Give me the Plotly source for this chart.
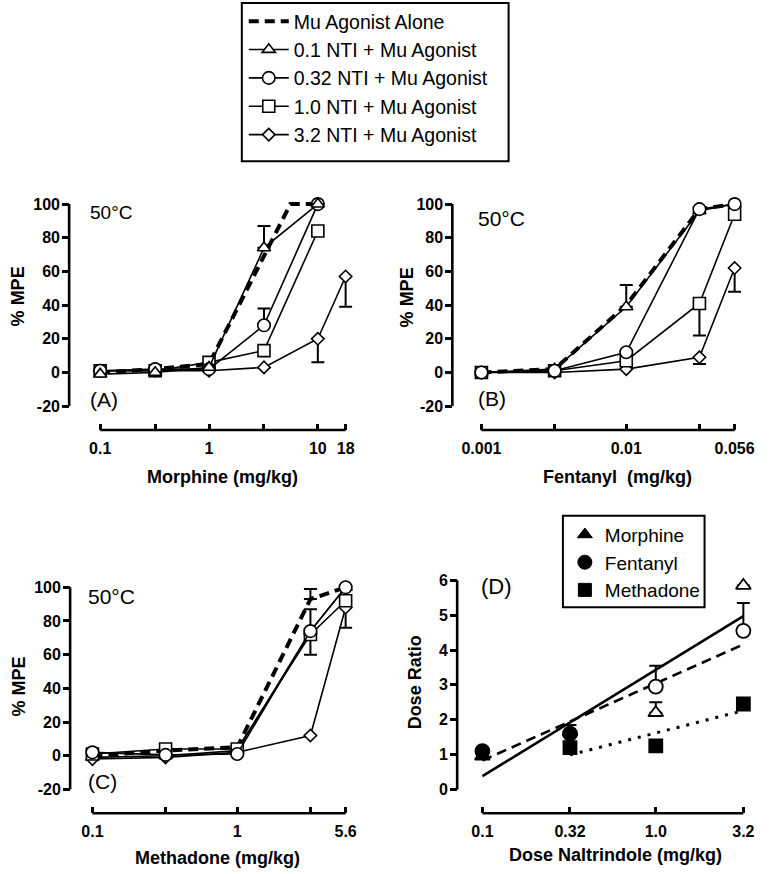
import numpy as np
import plotly.graph_objects as go

W, H = 769, 874
FONT = "Liberation Sans"

# ---------------- data ----------------
# Panel A: morphine (% MPE)
morph_dose = [0.1, 0.32, 1, 3.2, 10]
morph_dose_alone = [0.1, 0.32, 1, 3.2, 5.6, 10]
morph_dose_nti32 = [0.1, 0.32, 1, 3.2, 10, 18]
morph_alone = [0, 2, 5, 70, 100, 100]
morph_nti01 = [-1, 0, 3, 74, 100]
morph_nti01_up = [0, 0, 0, 13, 0]
morph_nti032 = [1, 2, 2, 28, 100]
morph_nti032_up = [0, 0, 0, 10, 0]
morph_nti10 = [1, 1, 6, 13, 84]
morph_nti32 = [1, 1, 1, 3, 20, 57]
morph_nti32_dn = [0, 0, 0, 0, 14, 18]

# Panel B: fentanyl (% MPE)
fent_dose = [0.001, 0.0032, 0.01, 0.032, 0.056]
fent_alone = [0, 2, 40, 97, 100]
fent_nti01 = [0, 2, 39, 96, 100]
fent_nti01_up = [0, 0, 13, 0, 0]
fent_nti032 = [0, 1, 12, 97, 100]
fent_nti10 = [0, 1, 7, 41, 94]
fent_nti10_dn = [0, 0, 0, 19, 0]
fent_nti32 = [0, 0, 2, 9, 62]
fent_nti32_dn = [0, 0, 0, 4, 14]

# Panel C: methadone (% MPE)
meth_dose = [0.1, 0.32, 1, 3.2, 5.6]
meth_alone = [0, 3, 5, 93, 100]
meth_alone_up = [0, 0, 0, 6, 0]
meth_nti01 = [-1, 0, 3, 74, 100]
meth_nti032 = [2, 0.5, 1, 74, 100]
meth_nti032_up = [0, 0, 0, 13, 0]
meth_nti10 = [1, 4, 4, 72, 92]
meth_nti10_dn = [0, 0, 0, 12, 0]
meth_nti32 = [-2, -1, 2, 12, 88]
meth_nti32_dn = [0, 0, 0, 0, 12]

# Panel D: dose ratio vs naltrindole dose
nti_dose = [0.1, 0.32, 1.0, 3.2]
dr_morph = [0.95, 1.65, 2.2, 5.85]
dr_morph_up = [0, 0.2, 0.3, 0]
dr_fent = [1.1, 1.6, 2.95, 4.55]
dr_fent_up = [0, 0, 0.6, 0.8]
nti_dose_meth = [0.32, 1.0, 3.2]
dr_meth = [1.2, 1.25, 2.45]
morph_open = [False, False, True, True]
fent_open = [False, False, True, True]
meth_open = [False, False, False]
fit_dose = [0.1, 3.2]
fit_morph = [0.38, 4.97]
fit_fent = [0.83, 4.16]
fit_dose_meth = [0.32, 3.2]
fit_meth = [0.99, 2.26]

series_names = ["Mu Agonist Alone", "0.1 NTI + Mu Agonist", "0.32 NTI + Mu Agonist",
                "1.0 NTI + Mu Agonist", "3.2 NTI + Mu Agonist"]
drug_names = ["Morphine", "Fentanyl", "Methadone"]

pct_ticks = [-20, 0, 20, 40, 60, 80, 100]
pct_ticktext = ["-20", "0", "20", "40", "60", "80", "100"]
dr_ticks = [0, 1, 2, 3, 4, 5, 6]
dr_ticktext = ["0", "1", "2", "3", "4", "5", "6"]
morph_ticks = [0.1, 0.32, 1, 3.2, 10, 18]
morph_ticktext = ["0.1", "", "1", "", "10", "18"]
fent_ticks = [0.001, 0.0032, 0.01, 0.032, 0.056]
fent_ticktext = ["0.001", "", "0.01", "", "0.056"]
meth_ticks = [0.1, 0.32, 1, 3.2, 5.6]
meth_ticktext = ["0.1", "", "1", "", "5.6"]
nti_ticks = [0.1, 0.32, 1.0, 3.2]
nti_ticktext = ["0.1", "0.32", "1.0", "3.2"]

# ---------------- geometry helpers ----------------
def log_x(v0, p0, v1, p1, lo, hi):
    u0, u1 = np.log10(v0), np.log10(v1)
    k = (p1 - p0) / (u1 - u0)
    d0 = p0 + k * (np.log10(lo) - u0)
    d1 = p0 + k * (np.log10(hi) - u0)
    return [max(0.0, d0 / W), min(1.0, d1 / W)], [np.log10(lo), np.log10(hi)]

def lin_y(v0, p0, v1, p1, lo, hi):
    k = (p1 - p0) / (v1 - v0)
    s_lo = p0 + k * (lo - v0)
    s_hi = p0 + k * (hi - v0)
    return [max(0.0, 1 - s_lo / H), min(1.0, 1 - s_hi / H)], [lo, hi]

def py(p):
    return 1 - p / H

def px(p):
    return p / W

tickfont = dict(family=FONT, size=16, color="black", weight="bold")
AXW = 2.6

def xcfg(dom, rng, pos_px, vals, text):
    return dict(type="log", domain=dom, range=rng, anchor="free", position=py(pos_px),
                showline=False, showgrid=False, zeroline=False,
                ticks="inside", ticklen=6, tickwidth=AXW, tickcolor="black",
                tickvals=vals, ticktext=text, tickfont=tickfont, ticklabelstandoff=7)

def ycfg(dom, rng, pos_px, vals, text):
    return dict(domain=dom, range=rng, anchor="free", position=px(pos_px), side="left",
                showline=False, showgrid=False, zeroline=False,
                ticks="outside", ticklen=7, tickwidth=AXW, tickcolor="black",
                tickvals=vals, ticktext=text, tickfont=tickfont, ticklabelstandoff=-1)

panels = {
    "A": dict(x=log_x(0.1, 94, 18, 347, 0.085, 21), y=lin_y(-20, 406, 100, 203, -24, 104),
              ypos=62, xpos=430, xr=(0.1, 18), yr=(-20, 100)),
    "B": dict(x=log_x(0.001, 487, 0.056, 748, 0.00085, 0.062), y=lin_y(-20, 406, 100, 203, -24, 104),
              ypos=457, xpos=430, xr=(0.001, 0.056), yr=(-20, 100)),
    "C": dict(x=log_x(0.1, 86, 5.6, 347, 0.085, 6.5), y=lin_y(-20, 791, 100, 588, -24, 104),
              ypos=63, xpos=815, xr=(0.1, 5.6), yr=(-20, 100)),
    "D": dict(x=log_x(0.1, 488, 3.2, 757, 0.085, 3.5), y=lin_y(0, 791, 6, 581, -0.3, 6.3),
              ypos=462, xpos=815, xr=(0.1, 3.2), yr=(0, 6)),
}
axid = {"A": ("x", "y"), "B": ("x2", "y2"), "C": ("x3", "y3"), "D": ("x4", "y4")}

fig = go.Figure()

symbols = [None, "triangle-up", "circle", "square", "diamond"]
msizes = [0, 11.5, 12.5, 12, 9.5]

def err(up, dn):
    if up is None and dn is None:
        return None
    n = len(up) if up is not None else len(dn)
    return dict(type="data", symmetric=False,
                array=up if up is not None else [0] * n,
                arrayminus=dn if dn is not None else [0] * n,
                color="black", thickness=2, width=6.5)

def add_mpe_panel(key, series, order, legend):
    xa, ya = axid[key]
    for i in order:
        xs, ys, up, dn = series[i]
        if i == 0:
            fig.add_trace(go.Scatter(
                x=xs, y=ys, mode="lines", name=series_names[i],
                line=dict(color="black", width=4, dash="10px,6px"),
                error_y=err(up, dn), xaxis=xa, yaxis=ya, legendrank=i + 1,
                showlegend=legend, legend="legend", cliponaxis=False))
        else:
            fig.add_trace(go.Scatter(
                x=xs, y=ys, mode="lines+markers", name=series_names[i],
                line=dict(color="black", width=1.6),
                marker=dict(symbol=symbols[i], size=msizes[i], color="white",
                            line=dict(color="black", width=1.6)),
                error_y=err(up, dn), xaxis=xa, yaxis=ya, legendrank=i + 1,
                showlegend=legend, legend="legend", cliponaxis=False))

add_mpe_panel("A", [
    (morph_dose_alone, morph_alone, None, None),
    (morph_dose, morph_nti01, morph_nti01_up, None),
    (morph_dose, morph_nti032, morph_nti032_up, None),
    (morph_dose, morph_nti10, None, None),
    (morph_dose_nti32, morph_nti32, None, morph_nti32_dn),
], [0, 4, 3, 2, 1], True)
add_mpe_panel("B", [
    (fent_dose, fent_alone, None, None),
    (fent_dose, fent_nti01, fent_nti01_up, None),
    (fent_dose, fent_nti032, None, None),
    (fent_dose, fent_nti10, None, fent_nti10_dn),
    (fent_dose, fent_nti32, None, fent_nti32_dn),
], [0, 4, 3, 1, 2], False)
add_mpe_panel("C", [
    (meth_dose, meth_alone, meth_alone_up, None),
    (meth_dose, meth_nti01, None, None),
    (meth_dose, meth_nti032, meth_nti032_up, None),
    (meth_dose, meth_nti10, None, meth_nti10_dn),
    (meth_dose, meth_nti32, None, meth_nti32_dn),
], [0, 1, 4, 3, 2], False)

# Panel D fit lines
for xs, ys, dash, w in [(fit_dose, fit_morph, "solid", 2.6),
                        (fit_dose, fit_fent, "10px,6px", 2.6),
                        (fit_dose_meth, fit_meth, "3px,7px", 3)]:
    fig.add_trace(go.Scatter(x=xs, y=ys, mode="lines", line=dict(color="black", width=w, dash=dash),
                             xaxis="x4", yaxis="y4", showlegend=False, hoverinfo="skip"))

# Panel D points
d_symbols = ["triangle-up", "circle", "square"]
d_sizes = [13, 14, 13]
for k, (name, sym, size, xs, ys, opn, up) in enumerate([
        (drug_names[0], d_symbols[0], d_sizes[0], nti_dose, dr_morph, morph_open, dr_morph_up),
        (drug_names[1], d_symbols[1], d_sizes[1], nti_dose, dr_fent, fent_open, dr_fent_up),
        (drug_names[2], d_symbols[2], d_sizes[2], nti_dose_meth, dr_meth, meth_open, None)]):
    fig.add_trace(go.Scatter(
        x=xs, y=ys, mode="markers", name=name,
        marker=dict(symbol=sym, size=size, color=["white" if o else "black" for o in opn],
                    line=dict(color="black", width=1.8)),
        error_y=err(up, None), xaxis="x4", yaxis="y4", showlegend=False, cliponaxis=False))
    # legend entry (filled symbol)
    fig.add_trace(go.Scatter(
        x=[None], y=[None], mode="markers", name=name, legendrank=k + 1,
        marker=dict(symbol=sym, size=size, color="black", line=dict(color="black", width=1)),
        xaxis="x4", yaxis="y4", showlegend=True, legend="legend2"))

layout = dict(width=W, height=H, margin=dict(l=0, r=0, t=0, b=0),
              paper_bgcolor="white", plot_bgcolor="white", showlegend=True,
              font=dict(family=FONT, color="black"))

xticks = {"A": (morph_ticks, morph_ticktext), "B": (fent_ticks, fent_ticktext),
          "C": (meth_ticks, meth_ticktext), "D": (nti_ticks, nti_ticktext)}
yticks = {"A": (pct_ticks, pct_ticktext), "B": (pct_ticks, pct_ticktext),
          "C": (pct_ticks, pct_ticktext), "D": (dr_ticks, dr_ticktext)}

shapes = []
for key, p in panels.items():
    xa, ya = axid[key]
    xname = "xaxis" + xa[1:]
    yname = "yaxis" + ya[1:]
    layout[xname] = xcfg(p["x"][0], p["x"][1], p["xpos"], *xticks[key])
    layout[yname] = ycfg(p["y"][0], p["y"][1], p["ypos"], *yticks[key])
    # offset axis lines spanning first to last tick
    shapes.append(dict(type="line", xref=xa, yref="paper", x0=p["xr"][0], x1=p["xr"][1],
                       y0=py(p["xpos"]), y1=py(p["xpos"]), line=dict(color="black", width=AXW)))
    shapes.append(dict(type="line", xref="paper", yref=ya, x0=px(p["ypos"]), x1=px(p["ypos"]),
                       y0=p["yr"][0], y1=p["yr"][1], line=dict(color="black", width=AXW)))

# legend boxes
shapes.append(dict(type="rect", xref="paper", yref="paper", x0=px(240), x1=px(515),
                   y0=py(1), y1=py(160), line=dict(color="black", width=2)))
shapes.append(dict(type="rect", xref="paper", yref="paper", x0=px(571), x1=px(717),
                   y0=py(516), y1=py(608), line=dict(color="black", width=2)))
layout["shapes"] = shapes

layout["legend"] = dict(x=px(242), y=py(0), xanchor="left", yanchor="top", bgcolor="rgba(0,0,0,0)",
                        borderwidth=0, font=dict(family=FONT, size=19.5, color="black"),
                        itemwidth=40, traceorder="normal")
layout["legend2"] = dict(x=px(573), y=py(516), xanchor="left", yanchor="top", bgcolor="rgba(0,0,0,0)",
                         borderwidth=0, font=dict(family=FONT, size=19, color="black"),
                         traceorder="normal")

def ann(text, x, y, size, bold=False, xanchor="center", angle=0):
    return dict(text=text, x=px(x), y=py(y), xref="paper", yref="paper", showarrow=False,
                xanchor=xanchor, yanchor="middle", textangle=angle,
                font=dict(family=FONT, size=size, color="black", weight="bold" if bold else "normal"))

annotations = [
    ann("50°C", 81, 211, 19, xanchor="left"),
    ann("(A)", 81, 399, 21, xanchor="left"),
    ann("50°C", 481, 217, 21, xanchor="left"),
    ann("(B)", 481, 398, 21, xanchor="left"),
    ann("50°C", 79, 597, 21, xanchor="left"),
    ann("(C)", 79, 783, 21, xanchor="left"),
    ann("(D)", 484, 587, 22, xanchor="left"),
    ann("Morphine (mg/kg)", 220, 477, 18, bold=True),
    ann("Fentanyl  (mg/kg)", 627, 477, 18, bold=True),
    ann("Methadone (mg/kg)", 215, 860, 18, bold=True),
    ann("Dose Naltrindole (mg/kg)", 625, 857, 18, bold=True),
    ann("% MPE", 9, 296, 18, bold=True, angle=-90),
    ann("% MPE", 410, 297, 18, bold=True, angle=-90),
    ann("% MPE", 10, 688, 18, bold=True, angle=-90),
    ann("Dose Ratio", 418, 683, 18, bold=True, angle=-90),
]
layout["annotations"] = annotations

fig.update_layout(**layout)
# remove the default 8px page margin so the figure fills the window exactly; hide the modebar
fig.write_html("out.html", config={"displayModeBar": False},
               post_script="document.body.style.margin='0px';document.body.style.overflow='hidden';")
